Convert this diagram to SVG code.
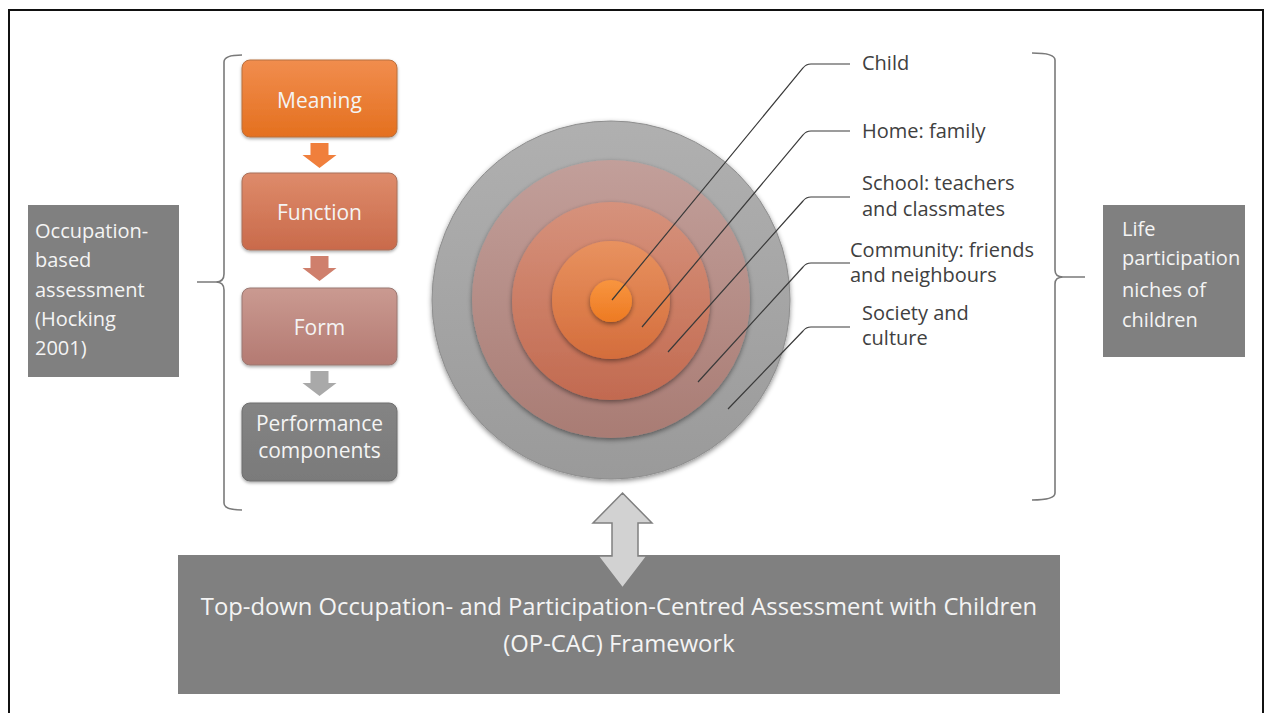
<svg xmlns="http://www.w3.org/2000/svg" width="1272" height="713" viewBox="0 0 1272 713">
<style>
.wt{font-family:"Open Sans","Liberation Sans",sans-serif;fill:#f4f4f4;}
.lb{font-family:"Open Sans","Liberation Sans",sans-serif;fill:#404040;font-size:20px;}
.ld{fill:none;stroke:#3a3a3a;stroke-width:1.2;}
.br{fill:none;stroke:#7a7a7a;stroke-width:1.6;}
.gbox{fill:#808080;}
</style>
<defs>
<linearGradient id="gM" x1="0" y1="0" x2="0" y2="1"><stop offset="0" stop-color="#f18d4e"/><stop offset="1" stop-color="#e4701f"/></linearGradient>
<linearGradient id="gF" x1="0" y1="0" x2="0" y2="1"><stop offset="0" stop-color="#de8b6a"/><stop offset="1" stop-color="#c96a4b"/></linearGradient>
<linearGradient id="gFo" x1="0" y1="0" x2="0" y2="1"><stop offset="0" stop-color="#ca9a91"/><stop offset="1" stop-color="#b47a72"/></linearGradient>
<linearGradient id="gP" x1="0" y1="0" x2="0" y2="1"><stop offset="0" stop-color="#848484"/><stop offset="1" stop-color="#7a7a7a"/></linearGradient>
<linearGradient id="c1" x1="0" y1="0" x2="0" y2="1"><stop offset="0" stop-color="#b0b0b0"/><stop offset="1" stop-color="#9a9a9a"/></linearGradient>
<linearGradient id="c2" x1="0" y1="0" x2="0" y2="1"><stop offset="0" stop-color="#c29f9a"/><stop offset="1" stop-color="#a97c74"/></linearGradient>
<linearGradient id="c3" x1="0" y1="0" x2="0" y2="1"><stop offset="0" stop-color="#d6927c"/><stop offset="1" stop-color="#c26a50"/></linearGradient>
<linearGradient id="c4" x1="0" y1="0" x2="0" y2="1"><stop offset="0" stop-color="#e8925f"/><stop offset="1" stop-color="#d46d3c"/></linearGradient>
<linearGradient id="c5" x1="0" y1="0" x2="0" y2="1"><stop offset="0" stop-color="#f8953f"/><stop offset="1" stop-color="#ed7a23"/></linearGradient>
<filter id="sh" x="-20%" y="-20%" width="140%" height="140%"><feDropShadow dx="0" dy="2" stdDeviation="2.5" flood-color="#000" flood-opacity="0.45"/></filter>
<filter id="sh2" x="-20%" y="-20%" width="140%" height="140%"><feDropShadow dx="0" dy="1.5" stdDeviation="1.5" flood-color="#000" flood-opacity="0.35"/></filter>
</defs>
<rect x="0" y="0" width="1272" height="713" fill="#ffffff"/>
<path d="M9,713 L9,10 L1263,10 L1263,713" fill="none" stroke="#111" stroke-width="2"/>

<g id="left-label">
<rect class="gbox" x="28" y="205" width="151" height="172"/>
<text class="wt" font-size="20" x="35" y="238">Occupation-</text>
<text class="wt" font-size="20" x="35" y="267">based</text>
<text class="wt" font-size="20" x="35" y="297">assessment</text>
<text class="wt" font-size="20" x="35" y="326">(Hocking</text>
<text class="wt" font-size="20" x="35" y="355">2001)</text>
</g>

<g id="right-label">
<rect class="gbox" x="1103" y="205" width="142" height="152"/>
<text class="wt" font-size="20" x="1122" y="236">Life</text>
<text class="wt" font-size="20" x="1122" y="265">participation</text>
<text class="wt" font-size="20" x="1122" y="297">niches of</text>
<text class="wt" font-size="20" x="1122" y="327">children</text>
</g>

<g id="node-meaning">
<rect x="242" y="60" width="155" height="77" rx="8" fill="url(#gM)" stroke="#b8703f" stroke-width="1" filter="url(#sh2)"/>
<text class="wt" font-size="21" x="319.5" y="108" text-anchor="middle">Meaning</text>
</g>
<g id="node-function">
<rect x="242" y="173" width="155" height="77" rx="8" fill="url(#gF)" stroke="#a8705a" stroke-width="1" filter="url(#sh2)"/>
<text class="wt" font-size="21" x="319.5" y="220" text-anchor="middle">Function</text>
</g>
<g id="node-form">
<rect x="242" y="288" width="155" height="77" rx="8" fill="url(#gFo)" stroke="#9a7872" stroke-width="1" filter="url(#sh2)"/>
<text class="wt" font-size="21" x="319.5" y="335" text-anchor="middle">Form</text>
</g>
<g id="node-performance">
<rect x="242" y="403" width="155" height="78" rx="8" fill="url(#gP)" stroke="#6e6e6e" stroke-width="1" filter="url(#sh2)"/>
<text class="wt" font-size="21" x="319.5" y="431" text-anchor="middle">Performance</text>
<text class="wt" font-size="21" x="319.5" y="458" text-anchor="middle">components</text>
</g>

<g id="circles">
<circle cx="611" cy="300" r="179" fill="url(#c1)" stroke="#8e8e8e" stroke-width="1" filter="url(#sh)"/>
<circle cx="611" cy="299" r="139" fill="url(#c2)" filter="url(#sh)"/>
<circle cx="611" cy="301" r="99" fill="url(#c3)" filter="url(#sh)"/>
<circle cx="611" cy="300" r="59" fill="url(#c4)" filter="url(#sh)"/>
<circle cx="611" cy="301" r="21" fill="url(#c5)" filter="url(#sh)"/>
</g>

<g id="labels">
<text class="lb" x="862" y="70">Child</text>
<text class="lb" x="862" y="138">Home: family</text>
<text class="lb" x="862" y="190">School: teachers</text>
<text class="lb" x="862" y="216">and classmates</text>
<text class="lb" x="850" y="257">Community: friends</text>
<text class="lb" x="850" y="282">and neighbours</text>
<text class="lb" x="862" y="320">Society and</text>
<text class="lb" x="862" y="345">culture</text>
</g>

<g id="node-framework">
<rect x="178" y="555" width="882" height="139" fill="#808080"/>
<text class="wt" font-size="23.8" x="619" y="615" text-anchor="middle">Top-down Occupation- and Participation-Centred Assessment with Children</text>
<text class="wt" font-size="23.8" x="619" y="652" text-anchor="middle">(OP-CAC) Framework</text>
</g>

<g id="connectors">
<path d="M319.5,143 m-9,0 h18 v12 h8 l-17,13 l-17,-13 h8 z" fill="#f07f3c"/>
<path d="M319.5,256 m-9,0 h18 v12 h8 l-17,13 l-17,-13 h8 z" fill="#cf7f6c"/>
<path d="M319.5,371 m-9,0 h18 v12 h8 l-17,13 l-17,-13 h8 z" fill="#a9a9a9"/>
<path class="ld" d="M612,300 L803,68 Q806,64 811,64 L850,64"/>
<path class="ld" d="M642,327 L803,135 Q806,131 811,131 L850,131"/>
<path class="ld" d="M668,352 L803,201 Q806,197 811,197 L850,197"/>
<path class="ld" d="M698,382 L803,267 Q806,263 811,263 L850,263"/>
<path class="ld" d="M728,409 L803,331 Q806,327 811,327 L850,327"/>
<path class="br" d="M242,55 Q224,55 224,62 L224,274 Q224,282 216,282 L197,282 M216,282 Q224,282 224,290 L224,503 Q224,510 242,510"/>
<path class="br" d="M1032,53 Q1055,53 1055,60 L1055,270 Q1055,277 1063,277 L1085,277 M1063,277 Q1055,277 1055,284 L1055,493 Q1055,500 1032,500"/>
<path d="M622.5,493 L652,523 L638,523 L638,556 L647,556 L622.5,588 L598,556 L612,556 L612,523 L593,523 Z" fill="#d2d2d2" stroke="#808080" stroke-width="1.5"/>
</g>
</svg>
